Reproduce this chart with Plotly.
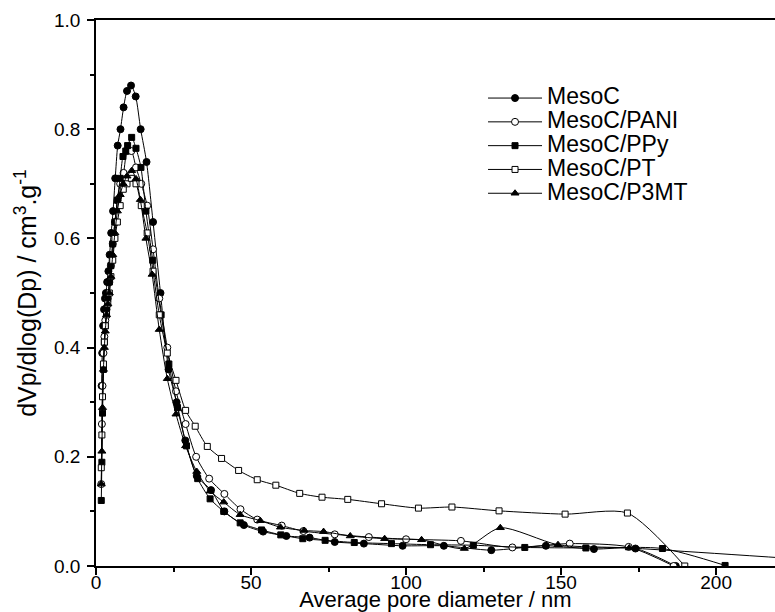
import plotly.graph_objects as go

# ---- data ----
mesoc_x = [1.8, 2.0, 2.3, 2.6, 2.9, 3.2, 3.6, 4.0, 4.4, 4.9, 5.5, 6.2, 7.0, 7.9, 8.9, 10.0, 11.3, 12.8,
           14.4, 16.3, 18.4, 20.8, 23.4, 26.0, 28.8, 32.5, 37.1, 41.4, 47.7, 53.9, 61.4, 68.9, 77.0,
           86.4, 98.9, 112.2, 127.5, 145.1, 160.6, 174.0, 187.0]
mesoc_y = [0.33, 0.39, 0.44, 0.47, 0.49, 0.50, 0.52, 0.54, 0.57, 0.61, 0.65, 0.71, 0.77, 0.80, 0.84, 0.87, 0.88, 0.86,
           0.80, 0.74, 0.63, 0.50, 0.36, 0.30, 0.23, 0.165, 0.139, 0.100, 0.075, 0.063, 0.055, 0.052, 0.044,
           0.041, 0.037, 0.037, 0.029, 0.037, 0.031, 0.032, 0.0]

pani_x = [1.7, 1.9, 2.1, 2.4, 2.7, 3.0, 3.4, 3.8, 4.3, 4.8, 5.4, 6.1, 6.9, 7.8, 8.9, 10.1, 11.4, 12.9,
          14.6, 16.5, 18.4, 20.4, 23.0, 25.8, 28.9, 32.3, 36.5, 41.4, 46.6, 52.0, 59.9, 66.9, 77.0,
          88.0, 100.0, 117.7, 134.3, 152.8, 171.8, 186.3]
pani_y = [0.15, 0.26, 0.33, 0.39, 0.42, 0.45, 0.47, 0.49, 0.52, 0.55, 0.59, 0.63, 0.67, 0.70, 0.72, 0.76, 0.76, 0.73,
          0.70, 0.66, 0.58, 0.49, 0.40, 0.32, 0.26, 0.20, 0.16, 0.132, 0.104, 0.085, 0.074, 0.064, 0.058,
          0.053, 0.049, 0.046, 0.034, 0.041, 0.035, 0.0]

ppy_x = [1.7, 1.9, 2.1, 2.4, 2.7, 3.0, 3.4, 3.8, 4.3, 4.8, 5.4, 6.1, 6.9, 7.8, 8.7, 9.6, 10.2, 11.5, 12.9,
         14.5, 16.1, 18.3, 21.0, 23.5, 26.3, 29.2, 32.8, 36.8, 41.2, 46.5, 53.4, 59.6, 66.7, 73.9,
         83.3, 95.3, 107.9, 121.7, 138.3, 158.0, 182.7, 202.9]
ppy_y = [0.12, 0.19, 0.28, 0.36, 0.41, 0.44, 0.47, 0.49, 0.52, 0.55, 0.59, 0.63, 0.67, 0.71, 0.75, 0.76, 0.77, 0.785, 0.765,
         0.73, 0.65, 0.56, 0.46, 0.37, 0.29, 0.22, 0.16, 0.123, 0.100, 0.079, 0.066, 0.057, 0.050, 0.047,
         0.043, 0.041, 0.039, 0.038, 0.034, 0.033, 0.032, 0.001]

pt_x = [1.7, 1.9, 2.1, 2.4, 2.7, 3.0, 3.4, 3.8, 4.3, 4.8, 5.4, 6.1, 6.9, 7.8, 8.8, 10.0, 11.4, 12.9,
        14.6, 16.5, 18.4, 20.4, 23.0, 25.8, 28.9, 32.0, 35.9, 40.5, 46.0, 52.0, 58.0, 65.7, 72.9,
        81.2, 92.1, 104.0, 114.8, 130.0, 151.3, 171.4, 189.9]
pt_y = [0.18, 0.24, 0.31, 0.37, 0.41, 0.44, 0.46, 0.48, 0.50, 0.53, 0.56, 0.60, 0.63, 0.66, 0.69, 0.70, 0.71, 0.70,
        0.66, 0.61, 0.54, 0.46, 0.39, 0.34, 0.285, 0.256, 0.219, 0.197, 0.175, 0.158, 0.148, 0.133, 0.126,
        0.122, 0.114, 0.106, 0.108, 0.101, 0.095, 0.097, 0.0]

p3mt_x = [1.7, 1.9, 2.1, 2.4, 2.7, 3.0, 3.4, 3.8, 4.3, 4.8, 5.4, 6.1, 6.9, 7.8, 8.8, 10.0, 11.5, 12.9,
          14.3, 16.1, 18.1, 20.4, 23.0, 25.8, 28.9, 32.5, 36.8, 41.2, 46.5, 53.0, 59.5, 67.1, 73.4,
          82.0, 93.1, 105.0, 118.8, 130.4, 149.0, 172.0, 255.0]
p3mt_y = [0.15, 0.21, 0.29, 0.36, 0.40, 0.43, 0.46, 0.48, 0.50, 0.53, 0.57, 0.61, 0.65, 0.68, 0.70, 0.714, 0.724, 0.709,
          0.671, 0.60, 0.534, 0.433, 0.343, 0.278, 0.22, 0.173, 0.137, 0.117, 0.094, 0.083, 0.071, 0.065, 0.063,
          0.055, 0.050, 0.048, 0.032, 0.070, 0.039, 0.033, 0.002]

series = [
    ("MesoC", mesoc_x, mesoc_y, "circle", "black", 7),
    ("MesoC/PANI", pani_x, pani_y, "circle", "white", 7),
    ("MesoC/PPy", ppy_x, ppy_y, "square", "black", 6),
    ("MesoC/PT", pt_x, pt_y, "square", "white", 6),
    ("MesoC/P3MT", p3mt_x, p3mt_y, "triangle-up", "black", 7),
]

FONT = "Liberation Sans, Arial, sans-serif"

fig = go.Figure()
for name, xs, ys, sym, fill, sz in series:
    fig.add_trace(go.Scatter(
        x=xs, y=ys, mode="lines+markers",
        name="<span style='font-size:23px'>" + name + "</span>",
        line=dict(color="black", width=1, shape="spline", smoothing=0.7),
        marker=dict(symbol=sym, size=sz, color=fill, line=dict(color="black", width=1)),
    ))

fig.update_layout(
    width=775, height=612,
    margin=dict(l=96, r=0, t=20, b=46),
    paper_bgcolor="white", plot_bgcolor="white",
    font=dict(family=FONT, color="black", size=19),
    showlegend=True,
    legend=dict(x=0.57, y=0.888, xanchor="left", yanchor="top",
                font=dict(size=16, family=FONT), bgcolor="rgba(0,0,0,0)",
                borderwidth=0, itemwidth=54),
)
fig.update_xaxes(
    range=[0, 219], dtick=50, tick0=0, automargin=False,
    showline=True, linecolor="black", linewidth=1.5, mirror=True,
    ticks="outside", ticklen=7, tickwidth=1.5, tickcolor="black",
    minor=dict(dtick=25, ticks="outside", ticklen=4, tickwidth=1.5, tickcolor="black"),
    showgrid=False, zeroline=False,
    tickfont=dict(size=19), ticklabelstandoff=-9,
    title=dict(text="Average pore diameter / nm", font=dict(size=22), standoff=5),
)
fig.update_yaxes(
    range=[0, 1.0], dtick=0.2, tick0=0, tickformat=".1f", automargin=False,
    showline=True, linecolor="black", linewidth=1.5, mirror=False,
    ticks="outside", ticklen=7, tickwidth=1.5, tickcolor="black",
    minor=dict(dtick=0.1, ticks="outside", ticklen=4, tickwidth=1.5, tickcolor="black"),
    showgrid=False, zeroline=False,
    tickfont=dict(size=19), ticklabelstandoff=3,
    title=dict(text="dVp/dlog(Dp) / cm<sup>3</sup>.g<sup>-1</sup>", font=dict(size=25), standoff=10),
)

fig.write_html("out.html")
